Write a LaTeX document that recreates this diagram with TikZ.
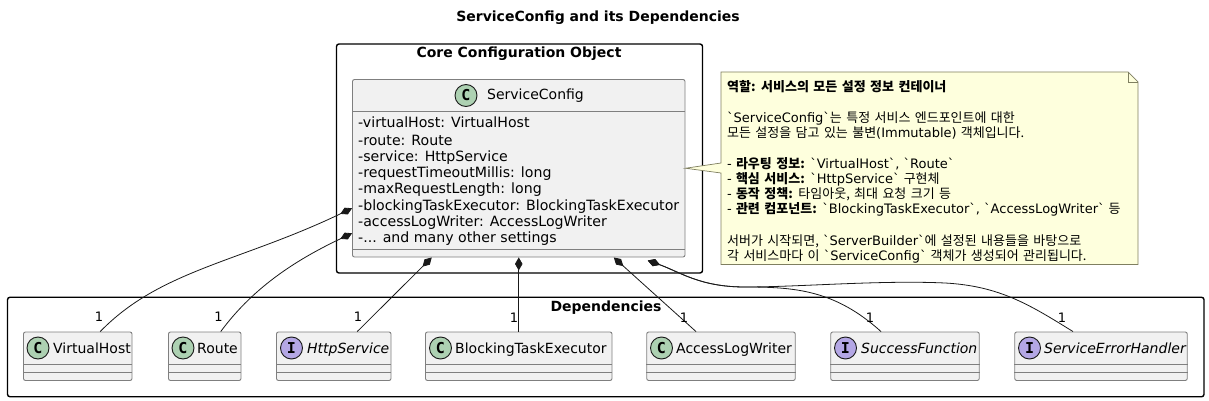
\documentclass[tikz,border=0pt]{standalone}
\usepackage{fontspec}
\setmainfont{DejaVu Sans}[Ligatures=TeXOff]
\setmonofont{DejaVu Sans Mono}
\newfontfamily\krfont{Noto Sans CJK KR}[WordSpace=1.5]
\newcommand{\kr}[1]{{\krfont #1}}
\usepackage{tikz}
\usetikzlibrary{arrows.meta,calc}
\definecolor{boxgray}{HTML}{7F7F7F}
\definecolor{boxfill}{HTML}{F1F1F1}
\definecolor{classspot}{HTML}{ADD1B2}
\definecolor{ifacespot}{HTML}{B4A7E5}
\definecolor{notefill}{HTML}{FEFFDD}
\definecolor{noteline}{HTML}{7F7F60}
\tikzset{
  cluster/.style={draw=black, line width=1.4pt, rounded corners=2.5pt, inner sep=0pt},
  clustertitle/.style={font=\fontsize{14}{16}\selectfont\bfseries, inner sep=0pt},
  classbox/.style={draw=boxgray, fill=boxfill, line width=0.9pt, rounded corners=2pt, inner sep=0pt},
  depbox/.style={classbox, minimum height=48.5pt, minimum width=#1},
  sepline/.style={draw=boxgray, line width=0.9pt},
  spot/.style={circle, draw=black!90, line width=0.9pt, minimum size=22pt, inner sep=0pt,
    font=\fontsize{15}{15}\selectfont\ttfamily\bfseries},
  classspot/.style={spot, fill=classspot},
  ifacespot/.style={spot, fill=ifacespot},
  classname/.style={anchor=base west, inner sep=0pt, font=\fontsize{14}{16}\selectfont},
  ifacename/.style={classname, font=\fontsize{14}{16}\selectfont\itshape},
  field/.style={anchor=base west, inner sep=0pt, font=\fontsize{14.15}{16}\selectfont},
  owns/.style={draw=black!90, line width=0.8pt, {Diamond[length=13pt,width=7.5pt]}-},
  multi/.style={inner sep=0pt, font=\fontsize{13}{15}\selectfont}
}
\begin{document}
\begin{tikzpicture}[x=1pt, y=-1pt]
  \useasboundingbox (0,0) rectangle (1209,401);
  \node[clustertitle] (title) at (598,18) {ServiceConfig and its Dependencies};

  % outer frames
  \node[cluster, minimum width=366pt, minimum height=229pt] (core) at (519.5,158.5) {};
  \node[clustertitle] (coretitle) at (519,54) {Core Configuration Object};
  \node[cluster, minimum width=1196.5pt, minimum height=99.5pt] (deps) at (605.75,347) {};
  \node[clustertitle] (depstitle) at (606,308) {Dependencies};

  % main class
  \node[classbox, minimum width=332.5pt, minimum height=177.5pt] (config) at (518.75,168.25) {};
  \draw[sepline] ($(config.west)+(0,-57.25)$) -- ($(config.east)+(0,-57.25)$);
  \draw[sepline] ($(config.west)+(0,80.75)$) -- ($(config.east)+(0,80.75)$);
  \node[classspot] (configspot) at (466,95.5) {C};
  \node[classname] (configname) at (487,100) {ServiceConfig};
  \node[field] (f1) at (358,128) {-virtualHost: VirtualHost};
  \node[field] (f2) at (358,145) {-route: Route};
  \node[field] (f3) at (358,161) {-service: HttpService};
  \node[field] (f4) at (358,177) {-requestTimeoutMillis: long};
  \node[field] (f5) at (358,193) {-maxRequestLength: long};
  \node[field] (f6) at (358,210) {-blockingTaskExecutor: BlockingTaskExecutor};
  \node[field] (f7) at (358,226) {-accessLogWriter: AccessLogWriter};
  \node[field] (f8) at (358,242) {-... and many other settings};

  % note
  \coordinate (notetop) at (721,163);
  \coordinate (notebot) at (721,173);
  \draw[fill=notefill, draw=noteline, line width=0.7pt] (721,72) -- (1128,72) -- (1138,82) -- (1138,264.5)
    -- (721,264.5) -- (notebot) -- (config.east) -- (notetop) -- cycle;
  \draw[draw=noteline, line width=0.7pt] (1128,72) -- (1128,82) -- (1138,82);
  \node[anchor=north west, inner sep=0pt, align=left, font=\fontsize{13}{15}\selectfont] (notetext) at (727,80) {%
    \lineskiplimit=-20pt\relax
    \textbf{\kr{역할: 서비스의 모든 설정 정보 컨테이너}}\\[0pt]
    \strut\\
    `ServiceConfig`\kr{는 특정 서비스 엔드포인트에 대한}\\
    \kr{모든 설정을 담고 있는 불변}(Immutable) \kr{객체입니다.}\\
    \strut\\
    - \textbf{\kr{라우팅 정보:}} `VirtualHost`, `Route`\\
    - \textbf{\kr{핵심 서비스:}} `HttpService` \kr{구현체}\\
    - \textbf{\kr{동작 정책:}} \kr{타임아웃, 최대 요청 크기 등}\\
    - \textbf{\kr{관련 컴포넌트:}} `BlockingTaskExecutor`, `AccessLogWriter` \kr{등}\\
    \strut\\
    \kr{서버가 시작되면,} `ServerBuilder`\kr{에 설정된 내용들을 바탕으로}\\
    \kr{각 서비스마다 이} `ServiceConfig` \kr{객체가 생성되어 관리됩니다.}};

  % dependencies
  \node[depbox=108.5pt] (virtualhost) at (77.75,356.25) {};
  \node[depbox=72.5pt] (route) at (204.75,356.25) {};
  \node[depbox=114.5pt] (httpservice) at (333.75,356.25) {};
  \node[depbox=186.5pt] (executor) at (518.75,356.25) {};
  \node[depbox=148.5pt] (logwriter) at (721,356.25) {};
  \node[depbox=148.5pt] (success) at (905,356.25) {};
  \node[depbox=172.5pt] (errorhandler) at (1101,356.25) {};
  \foreach \dep in {virtualhost,route,httpservice,executor,logwriter,success,errorhandler} {
    \draw[sepline] ($(\dep.west)+(0,8)$) -- ($(\dep.east)+(0,8)$);
    \draw[sepline] ($(\dep.west)+(0,16)$) -- ($(\dep.east)+(0,16)$);
  }
  \node[classspot] (vhspot) at (38,348) {C};
  \node[classname] (vhname) at (53,353) {VirtualHost};
  \node[classspot] (routespot) at (183,348) {C};
  \node[classname] (routename) at (197,353) {Route};
  \node[ifacespot] (httpspot) at (291.5,348) {I};
  \node[ifacename] (httpname) at (307,353) {HttpService};
  \node[classspot] (execspot) at (440.5,348) {C};
  \node[classname] (execname) at (455,353) {BlockingTaskExecutor};
  \node[classspot] (logspot) at (661.5,348) {C};
  \node[classname] (logname) at (676,353) {AccessLogWriter};
  \node[ifacespot] (succspot) at (845.5,348) {I};
  \node[ifacename] (succname) at (861,353) {SuccessFunction};
  \node[ifacespot] (errspot) at (1029.5,348) {I};
  \node[ifacename] (errname) at (1044,353) {ServiceErrorHandler};

  % composition links
  \draw[owns] ($(config.west)+(0,40)$) .. controls (240,262) and (160,270) .. ($(virtualhost.north)+(22.5,0)$);
  \draw[owns] ($(config.west)+(0,65)$) .. controls (300,258) and (255,285) .. ($(route.north)+(16,0)$);
  \draw[owns] ($(config.south)+(-87,0)$) -- ($(httpservice.north)+(23.5,0)$);
  \draw[owns] (config.south) -- (executor.north);
  \draw[owns] ($(config.south)+(95,0)$) -- ($(logwriter.north)+(-25,0)$);
  \draw[owns] ($(config.south)+(129,3)$) .. controls (680,272) and (700,287) .. (745,287)
    .. controls (795,287) and (835,290) .. ($(success.north)+(-24,0)$);
  \draw[owns] ($(config.south)+(129,3)$) .. controls (680,272) and (700,287) .. (745,287)
    .. controls (800,287) and (880,280) .. (945,283) .. controls (1000,286) and (1030,305) .. ($(errorhandler.north)+(-28,0)$);

  % multiplicities
  \node[multi] (m1) at (99,316.5) {1};
  \node[multi] (m2) at (218.5,316.5) {1};
  \node[multi] (m3) at (358,316.5) {1};
  \node[multi] (m4) at (514,317.5) {1};
  \node[multi] (m5) at (684,317.5) {1};
  \node[multi] (m6) at (870,317.5) {1};
  \node[multi] (m7) at (1062,317.5) {1};
\end{tikzpicture}
\end{document}
